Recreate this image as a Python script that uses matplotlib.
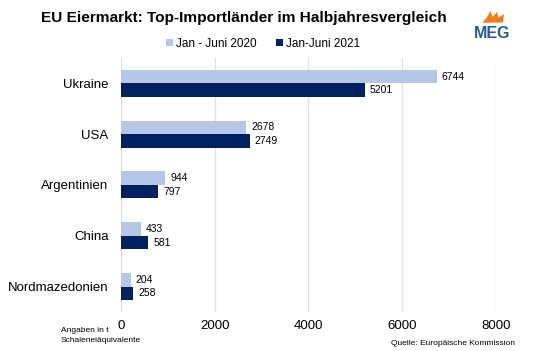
import numpy as np
import matplotlib
matplotlib.use('Agg')
import matplotlib.pyplot as plt
from matplotlib.patches import Polygon

plt.rcParams['font.family'] = ['Liberation Sans', 'DejaVu Sans']

countries = ['Ukraine', 'USA', 'Argentinien', 'China', 'Nordmazedonien']
h1_2020 = [6744, 2678, 944, 433, 204]
h1_2021 = [5201, 2749, 797, 581, 258]
series_names = ['Jan - Juni 2020', 'Jan-Juni 2021']
xticks = [0, 2000, 4000, 6000, 8000]

c20 = '#b4c7e7'
c21 = '#002060'

fig = plt.figure(figsize=(5.39, 3.51), dpi=100)
ax = fig.add_axes([0.2245, 0.111, 0.6955, 0.724])

y = np.arange(len(countries))
bh = 0.266
b1 = ax.barh(y - bh / 2, h1_2020, height=bh, color=c20, label=series_names[0])
b2 = ax.barh(y + bh / 2, h1_2021, height=bh, color=c21, label=series_names[1])

for bars, vals in ((b1, h1_2020), (b2, h1_2021)):
    for rect, v in zip(bars, vals):
        ax.annotate(str(v), (rect.get_width(), rect.get_y() + rect.get_height() / 2),
                    xytext=(3.5, 0), textcoords='offset points', va='center', ha='left',
                    fontsize=7.5, color='black')

ax.set_xlim(0, 8000)
ax.set_ylim(len(countries) - 0.5, -0.5)
ax.set_xticks(xticks)
ax.set_xticklabels([str(t) for t in xticks], fontsize=9.5)
ax.set_yticks(y)
ax.set_yticklabels(countries, fontsize=9.5)
ax.tick_params(axis='both', length=0)
ax.tick_params(axis='y', pad=9)
ax.tick_params(axis='x', pad=6)
ax.grid(axis='x', color='#e0e0e0', lw=0.9)
ax.set_axisbelow(True)
for s in ax.spines.values():
    s.set_visible(False)

fig.text(0.453, 0.950, 'EU Eiermarkt: Top-Importländer im Halbjahresvergleich',
         ha='center', va='center', fontsize=11.1, fontweight='bold')

fig.legend(handles=[b1, b2], loc='center', bbox_to_anchor=(0.488, 0.876), ncol=2,
           frameon=False, fontsize=8.5, handlelength=0.6, handleheight=0.6,
           handletextpad=0.3, columnspacing=1.6)

# footnotes
fig.text(0.113, 0.057, 'Angaben in t', ha='left', va='center', fontsize=6)
fig.text(0.113, 0.029, 'Schaleneiäquivalente', ha='left', va='center', fontsize=6)
fig.text(0.955, 0.022, 'Quelle: Europäische Kommission', ha='right', va='center',
         fontsize=6)

# MEG logo
fig.text(0.913, 0.905, 'MEG', ha='center', va='center', fontsize=11.5,
         fontweight='bold', color='#1f5b9b')
flame = Polygon([(0.895, 0.935), (0.903, 0.950), (0.910, 0.968), (0.914, 0.952),
                 (0.922, 0.966), (0.925, 0.950), (0.935, 0.960), (0.933, 0.936)],
                closed=True, transform=fig.transFigure, color='#f07c1e', lw=0)
fig.patches.append(flame)

fig.savefig('out.png', dpi=100)
